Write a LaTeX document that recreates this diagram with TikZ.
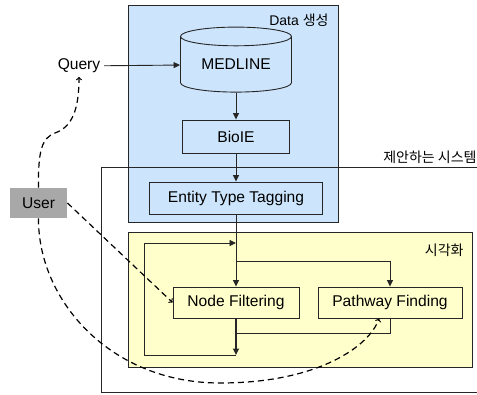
\documentclass[tikz,border=0pt]{standalone}
\usepackage{fontspec}
\setmainfont{Liberation Sans}
\newfontfamily\korfont{Noto Sans CJK KR}
\usepackage{tikz}
\usetikzlibrary{positioning,shapes.geometric,arrows.meta}
\definecolor{DataBlue}{HTML}{CCE5FC}
\definecolor{VisYellow}{HTML}{FFFFCC}
\definecolor{UserGray}{HTML}{A8A8A8}
\definecolor{LineDark}{HTML}{262626}

\begin{document}
\begin{tikzpicture}[>={Triangle[length=6.5pt,width=6pt]},x=1pt,y=-1pt,line width=0.9pt]
  \tikzstyle{stage}=[draw=LineDark,fill=DataBlue,inner sep=0pt,
    minimum height=32pt,font=\fontsize{15.6}{18}\selectfont]
  \tikzstyle{group}=[draw=LineDark,line width=1pt]
  \tikzstyle{grouplabel}=[inner sep=0pt,font=\fontsize{14}{16}\selectfont]
  \tikzstyle{userlink}=[dashed,dash pattern=on 6pt off 4pt,line width=1.2pt,-to]
  \useasboundingbox (0,0) rectangle (477,394);
  % groups
  \draw[group,fill=DataBlue] (128,5) rectangle (338,222);
  \draw[group,fill=VisYellow] (128,232) rectangle (472,367);
  \draw[group] (477,167) -- (101,167) -- (101,392) -- (477,392);
  \node[grouplabel,anchor=east] (datalabel) at (329,20) {Data \korfont 생성};
  \node[grouplabel,anchor=east] (syslabel) at (477,157) {\korfont 제안하는 시스템};
  \node[grouplabel,anchor=east] (vislabel) at (464,250) {\korfont 시각화};
  % blocks
  \node[stage,cylinder,shape border rotate=90,aspect=0.27,
    minimum width=111pt,minimum height=65pt] (medline) at (236,64.5) {MEDLINE};
  \node[stage,minimum width=107pt,minimum height=33pt] (bioie) at (236,136.5) {BioIE};
  \node[stage,minimum width=173pt] (ett) at (236,198) {Entity Type Tagging};
  \node[stage,fill=VisYellow,minimum width=126pt,minimum height=31pt] (nf) at (236,302.5) {Node Filtering};
  \node[stage,fill=VisYellow,minimum width=144pt,minimum height=31pt] (pf) at (390,302.5) {Pathway Finding};
  \node[font=\fontsize{15.6}{18}\selectfont] (query) at (79,66) {Query};
  \node[stage,draw=none,fill=UserGray,minimum width=57pt,minimum height=30pt] (user) at (38.5,203) {User};
  % points inside the visual box
  \coordinate (split) at (236,261);
  \coordinate (loopin) at (236,243);
  \coordinate (loopout) at (236,355);
  \coordinate (loopcorner) at (144,355);
  \coordinate (merge) at (236,333);
  % flow
  \draw[->,LineDark] (query) -- (medline);
  \draw[->,LineDark] (medline) -- (bioie);
  \draw[->,LineDark] (bioie) -- (ett);
  \draw[->,LineDark] (ett) -- (nf);
  \draw[->,LineDark] (split) -| (pf);
  \draw[->,LineDark,line width=1.6pt] (nf) -- (loopout);
  \draw[->,LineDark] (loopout) -- (loopcorner) |- (loopin);
  \draw[LineDark] (pf) |- (merge);
  % user actions
  \draw[userlink] (user.north) .. controls (38,150) and (42,138) .. (55,133)
    .. controls (72,127) and (79,110) .. (query.south);
  \draw[userlink] (user.east) -- (nf.west);
  \draw[userlink] (user.south) .. controls (38,300) and (110,383) .. (220,383)
    .. controls (320,383) and (370,345) .. ([xshift=-11pt]pf.south);
\end{tikzpicture}
\end{document}
